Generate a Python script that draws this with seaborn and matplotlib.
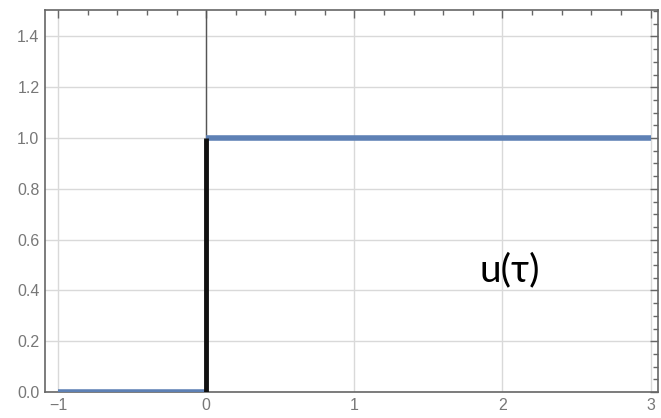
import matplotlib
matplotlib.use("Agg")
import matplotlib.pyplot as plt
import seaborn as sns
import pandas as pd
from matplotlib.ticker import MultipleLocator

sns.set_style("white")
plt.rcParams['font.family'] = ['Liberation Sans', 'DejaVu Sans']

# data
step_x_low = [-1, 0]
step_y_low = [0, 0]
step_x_high = [0, 3]
step_y_high = [1, 1]
jump_x = [0, 0]
jump_y = [0, 1]
x_ticks = [-1, 0, 1, 2, 3]
y_ticks = [0.0, 0.2, 0.4, 0.6, 0.8, 1.0, 1.2, 1.4]
label_text = "u(τ)"

fig = plt.figure(figsize=(6.61, 4.18), dpi=100)
ax = fig.add_axes([45/661, 1-392/418, (658-45)/661, (392-10)/418])

blue = "#5E81B5"
ax.axvline(0, color="#555555", lw=1.0, zorder=1)
sns.lineplot(x=step_x_low, y=step_y_low, ax=ax, color=blue, lw=4, zorder=3,
             estimator=None, sort=False, solid_capstyle="butt")
sns.lineplot(x=step_x_high, y=step_y_high, ax=ax, color=blue, lw=4, zorder=3,
             estimator=None, sort=False, solid_capstyle="butt")
sns.lineplot(x=jump_x, y=jump_y, ax=ax, color="#111111", lw=3.5, zorder=4,
             estimator=None, sort=False, solid_capstyle="butt")

ax.set_xlim(-1.088, 3.05)
ax.set_ylim(0, 1.504)
ax.set_xticks(x_ticks)
ax.set_yticks(y_ticks)
ax.set_xticklabels([str(t).replace("-", "\u2212") for t in x_ticks])
ax.set_yticklabels([f"{t:.1f}" for t in y_ticks])
ax.xaxis.set_minor_locator(MultipleLocator(0.2))
ax.yaxis.set_minor_locator(MultipleLocator(0.05))
ax.grid(True, which="major", color="#d9d9d9", lw=1.0, zorder=0)
ax.tick_params(which="both", direction="in", top=True, right=True, color="#666666",
               labelcolor="#777777", labelsize=11.5)
ax.tick_params(which="major", length=6, width=1, pad=4)
ax.tick_params(which="minor", length=3.5, width=1)
for s in ax.spines.values():
    s.set_color("#666666")
    s.set_linewidth(1.2)
ax.set_xlabel("")
ax.set_ylabel("")

ax.text(2.05, 0.48, label_text, fontsize=28, ha="center", va="center",
        family=["Lato", "DejaVu Sans"], color="black")

fig.savefig("out.png", dpi=100)
